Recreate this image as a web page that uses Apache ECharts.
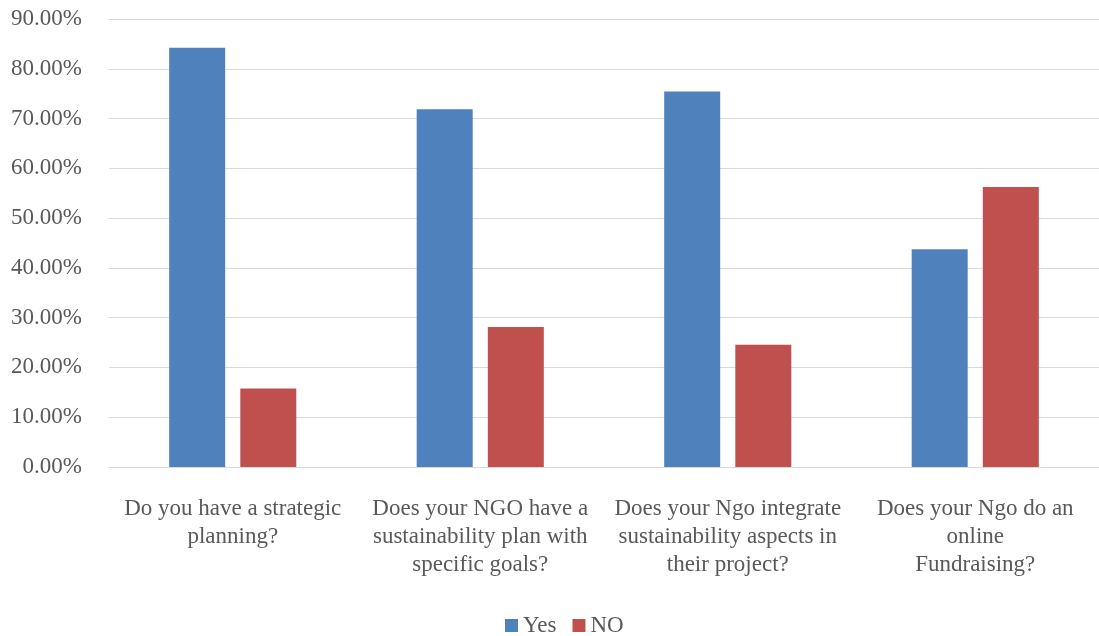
<!DOCTYPE html>
<html>
<head>
<meta charset="utf-8">
<style>
  html, body { margin: 0; padding: 0; background: #ffffff; }
  #chart { width: 1099px; height: 636px; }
</style>
<script src="https://cdn.jsdelivr.net/npm/echarts@6/dist/echarts.min.js"></script>
</head>
<body>
<div id="chart"></div>
<script>
// Survey questions, one entry per line of the axis label
const questionLines = [
  ['Do you have a strategic', 'planning?'],
  ['Does your NGO have a', 'sustainability plan with', 'specific goals?'],
  ['Does your Ngo integrate', 'sustainability aspects in', 'their project?'],
  ['Does your Ngo do an', 'online', 'Fundraising?']
];
const categories = questionLines.map(lines => lines.join('\n'));

// Share of answers, in percent
const yesValues = [84.21, 71.88, 75.44, 43.75];
const noValues  = [15.79, 28.12, 24.56, 56.25];

const seriesNames = ['Yes', 'NO'];

const textColor = '#595959';
const serif = '"Liberation Serif", "Times New Roman", serif';

const chart = echarts.init(document.getElementById('chart'));
chart.setOption({
  animation: false,
  backgroundColor: '#ffffff',
  textStyle: { fontFamily: serif },
  grid: { left: 109, top: 19, width: 996, bottom: 169, containLabel: false },
  legend: {
    data: seriesNames,
    top: 609,
    left: 500,
    itemWidth: 13,
    itemHeight: 13,
    itemGap: 16,
    icon: 'rect',
    textStyle: { color: textColor, fontSize: 23, fontFamily: serif }
  },
  xAxis: {
    type: 'category',
    data: categories,
    axisLine: { show: true, lineStyle: { color: '#D9D9D9', width: 1 } },
    axisTick: { show: false },
    axisLabel: {
      interval: 0,
      margin: 28,
      color: textColor,
      fontSize: 23,
      lineHeight: 28,
      fontFamily: serif,
      align: 'center'
    }
  },
  yAxis: {
    type: 'value',
    min: 0,
    max: 90,
    interval: 10,
    axisLine: { show: false },
    axisTick: { show: false },
    splitLine: { lineStyle: { color: '#D9D9D9', width: 1 } },
    axisLabel: {
      margin: 27,
      color: textColor,
      fontSize: 23,
      fontFamily: serif,
      padding: [3, 0, 0, 0],
      formatter: v => v.toFixed(2) + '%'
    }
  },
  series: [
    {
      name: 'Yes',
      type: 'bar',
      data: yesValues,
      barWidth: 56,
      barGap: '27%',
      itemStyle: { color: '#4F81BD' }
    },
    {
      name: 'NO',
      type: 'bar',
      data: noValues,
      barWidth: 56,
      barGap: '27%',
      itemStyle: { color: '#C0504D' }
    }
  ]
});
</script>
</body>
</html>
